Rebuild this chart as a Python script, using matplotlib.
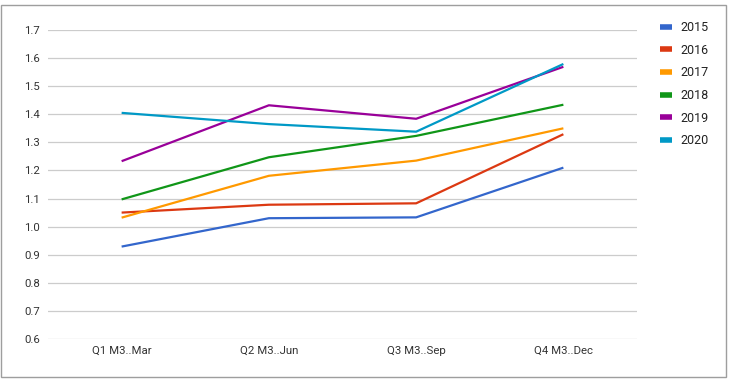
import matplotlib
matplotlib.use('Agg')
import matplotlib.pyplot as plt
from matplotlib.patches import Rectangle

quarters = ['Q1 M3..Mar', 'Q2 M3..Jun', 'Q3 M3..Sep', 'Q4 M3..Dec']
years = ['2015', '2016', '2017', '2018', '2019', '2020']
v2015 = [0.929, 1.030, 1.033, 1.210]
v2016 = [1.050, 1.078, 1.083, 1.329]
v2017 = [1.032, 1.181, 1.235, 1.350]
v2018 = [1.097, 1.247, 1.323, 1.434]
v2019 = [1.233, 1.432, 1.384, 1.569]
v2020 = [1.405, 1.365, 1.338, 1.579]
series = [v2015, v2016, v2017, v2018, v2019, v2020]
colors = ['#3366cc', '#dc3912', '#ff9900', '#109618', '#990099', '#0099c6']
yticks = [0.6, 0.7, 0.8, 0.9, 1.0, 1.1, 1.2, 1.3, 1.4, 1.5, 1.6, 1.7]

plt.rcParams['font.family'] = ['Roboto', 'DejaVu Sans']

W, H = 730, 380
fig = plt.figure(figsize=(W / 100, H / 100), dpi=100)
fig.patch.set_facecolor('white')
fig.add_artist(Rectangle((1 / W, 1 - 377 / H), 725 / W, 372 / H,
                         transform=fig.transFigure, fill=False,
                         edgecolor='#9e9e9e', lw=1))

ax = fig.add_axes([48 / W, 1 - 339 / H, 589 / W, 309 / H])
x = range(len(quarters))
for vals, year, c in zip(series, years, colors):
    ax.plot(x, vals, color=c, lw=1.6, label=year, solid_capstyle='butt')

ax.set_xlim(-0.5, 3.5)
ax.set_ylim(0.6, 1.7)
ax.set_yticks(yticks)
ax.set_yticklabels([f'{t:.1f}' for t in yticks])
ax.set_xticks(list(x))
ax.set_xticklabels(quarters)
ax.grid(axis='y', color='#cccccc', lw=0.9)
ax.set_axisbelow(True)
for s in ax.spines.values():
    s.set_visible(False)
ax.tick_params(axis='both', length=0, labelsize=8.2, colors='#333333')
ax.tick_params(axis='y', pad=6)
ax.tick_params(axis='x', pad=5)

leg = ax.legend(loc='upper left', bbox_to_anchor=(655 / W, 1 - 16 / H),
                bbox_transform=fig.transFigure, frameon=False,
                fontsize=9, handlelength=0.96, handletextpad=0.64,
                labelspacing=0.77, borderaxespad=0)
for line in leg.get_lines():
    line.set_linewidth(4)
for t in leg.get_texts():
    t.set_color('#222222')

fig.savefig('out.png', dpi=100)
